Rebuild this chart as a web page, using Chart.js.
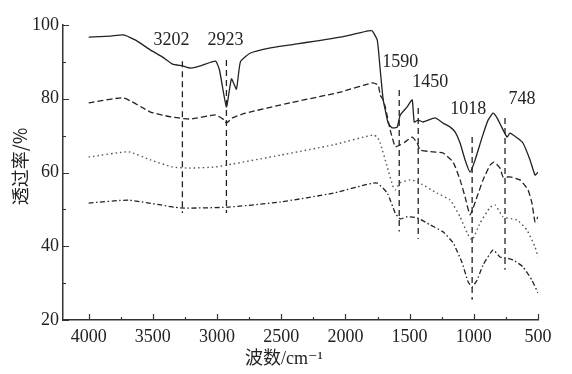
<!DOCTYPE html>
<html>
<head>
<meta charset="utf-8">
<script src="https://cdn.jsdelivr.net/npm/chart.js@4"></script>
<style>
  html, body { margin: 0; padding: 0; background: #fff; }
  #wrap { width: 572px; height: 374px; }
</style>
</head>
<body>
<div id="wrap"><canvas id="ftir" width="572" height="374"></canvas></div>
<script>
// wavenumber (cm-1) / transmittance (%)
const solidX = [4000, 3829, 3728, 3634, 3518, 3424, 3347, 3269, 3207, 3129, 3012, 2981, 2927, 2888, 2849, 2818, 2740, 2584, 2429, 2040, 1822, 1791, 1752, 1729, 1706, 1690, 1667, 1636, 1597, 1573, 1519, 1480, 1464, 1433, 1395, 1301, 1239, 1184, 1146, 1107, 1068, 1029, 990, 935, 889, 850, 819, 780, 741, 718, 663, 617, 562, 523, 500];
const solidY = [96.7, 97.0, 97.3, 95.9, 93.2, 91.3, 89.4, 88.9, 88.3, 88.9, 90.2, 87.8, 77.8, 85.4, 82.6, 90.0, 92.4, 93.8, 94.6, 96.7, 98.4, 98.4, 95.9, 87.8, 79.7, 77.0, 73.4, 72.1, 72.3, 75.6, 77.8, 79.7, 73.7, 74.2, 73.7, 74.8, 73.4, 72.3, 71.0, 68.0, 63.4, 60.1, 63.4, 69.6, 74.2, 76.1, 74.8, 72.1, 69.6, 70.7, 69.4, 68.0, 63.4, 59.3, 60.1];

const dashX = [4000, 3728, 3518, 3347, 3207, 3012, 2942, 2927, 2880, 2779, 2429, 2040, 1791, 1745, 1729, 1706, 1690, 1651, 1612, 1573, 1534, 1480, 1441, 1418, 1317, 1239, 1161, 1107, 1068, 1029, 975, 928, 873, 842, 796, 772, 718, 640, 578, 547, 523, 500];
const dashY = [78.9, 80.2, 76.4, 75.0, 74.5, 75.6, 74.2, 73.4, 74.8, 76.1, 78.9, 81.8, 84.3, 83.7, 81.0, 79.7, 77.8, 71.5, 67.0, 67.5, 68.3, 69.6, 68.0, 66.1, 65.6, 65.3, 62.8, 58.0, 53.4, 48.5, 53.4, 58.0, 62.0, 62.8, 61.2, 58.8, 58.8, 58.0, 55.3, 51.7, 46.6, 48.0];

const dotX = [4000, 3689, 3518, 3347, 3207, 3012, 2927, 2507, 2095, 1785, 1752, 1729, 1674, 1628, 1612, 1573, 1495, 1441, 1286, 1184, 1107, 1052, 1013, 951, 873, 834, 772, 663, 586, 523, 500];
const dotY = [64.2, 65.6, 63.4, 61.5, 61.2, 61.5, 62.0, 64.7, 67.5, 70.2, 69.6, 68.0, 61.5, 56.0, 55.3, 57.2, 58.0, 57.5, 54.4, 52.5, 48.0, 43.6, 41.7, 46.3, 50.6, 51.2, 48.0, 47.1, 44.4, 39.8, 37.1];

const dashDotX = [4000, 3689, 3285, 2919, 2507, 2095, 1760, 1674, 1612, 1573, 1519, 1441, 1340, 1239, 1161, 1091, 1044, 1013, 975, 928, 850, 796, 741, 694, 617, 547, 500];
const dashDotY = [51.7, 52.5, 50.4, 50.6, 52.0, 54.4, 57.2, 54.4, 49.0, 47.4, 48.0, 47.7, 45.8, 43.9, 40.9, 35.5, 30.3, 29.0, 30.8, 34.9, 39.0, 37.1, 36.8, 36.3, 34.4, 30.8, 27.3];

// peak markers
const peakLabels = ['3202', '2923', '1590', '1450', '1018', '748'];
const peakLineX = [3270, 2927, 1581, 1433, 1013, 757];
const peakLineTop = [90.2, 90.5, 82.4, 77.5, 69.6, 74.8];
const peakLineBottom = [49, 49, 44, 42, 25.5, 33.6];
const peakTextX = [3354, 2934, 1573, 1340, 1044, 624];
const peakTextY = [95.9, 95.9, 90.0, 84.5, 77.2, 79.9];

const xTicks = [4000, 3500, 3000, 2500, 2000, 1500, 1000, 500];
const yTicks = [100, 80, 60, 40, 20];

const xTitle = '波数/cm⁻¹';
const yTitle = '透过率/%';

const ink = '#222';
const serif = '"Liberation Serif", "DejaVu Serif", serif';
const cjk = '"Noto Sans CJK SC", "Noto Sans", sans-serif';

function toPts(xs, ys) {
    return xs.map((x, i) => ({ x: x, y: ys[i] }));
}

function curve(xs, ys, dash, width, color) {
    return {
        data: toPts(xs, ys),
        showLine: true,
        borderColor: color || ink,
        borderWidth: width,
        borderDash: dash,
        pointRadius: 0,
        tension: 0.15,
        fill: false
    };
}

const datasets = [
    curve(solidX, solidY, [], 1.3),
    curve(dashX, dashY, [6, 3], 1.3),
    curve(dotX, dotY, [1.5, 3], 1.4, '#555'),
    curve(dashDotX, dashDotY, [5, 2.5, 1.5, 2.5], 1.3)
];

// vertical dashed marker lines, each a 2-point series
peakLineX.forEach((x, i) => {
    datasets.push({
        data: [{ x: x, y: peakLineTop[i] }, { x: x, y: peakLineBottom[i] }],
        showLine: true,
        borderColor: ink,
        borderWidth: 1.3,
        borderDash: [6, 4],
        pointRadius: 0,
        tension: 0
    });
});

// inward tick marks, peak labels and axis titles
const decor = {
    id: 'decor',
    afterDraw(chart) {
        const ctx = chart.ctx;
        const xs = chart.scales.x;
        const ys = chart.scales.y;
        const area = chart.chartArea;
        ctx.save();
        ctx.strokeStyle = '#333';
        ctx.lineWidth = 1.2;
        ctx.beginPath();
        xTicks.forEach(v => {
            const px = Math.round(xs.getPixelForValue(v)) + 0.5;
            ctx.moveTo(px, area.bottom);
            ctx.lineTo(px, area.bottom - 6);
        });
        for (let i = 0; i < xTicks.length - 1; i++) {
            const px = Math.round(xs.getPixelForValue((xTicks[i] + xTicks[i + 1]) / 2)) + 0.5;
            ctx.moveTo(px, area.bottom);
            ctx.lineTo(px, area.bottom - 3);
        }
        yTicks.forEach(v => {
            const py = Math.round(ys.getPixelForValue(v)) + 0.5;
            ctx.moveTo(area.left, py);
            ctx.lineTo(area.left + 6, py);
        });
        for (let i = 0; i < yTicks.length - 1; i++) {
            const py = Math.round(ys.getPixelForValue((yTicks[i] + yTicks[i + 1]) / 2)) + 0.5;
            ctx.moveTo(area.left, py);
            ctx.lineTo(area.left + 3, py);
        }
        ctx.stroke();

        ctx.fillStyle = ink;
        ctx.font = '18px ' + serif;
        ctx.textAlign = 'center';
        ctx.textBaseline = 'middle';
        peakLabels.forEach((t, i) => {
            ctx.fillText(t, xs.getPixelForValue(peakTextX[i]), ys.getPixelForValue(peakTextY[i]));
        });

        // x title: CJK part + serif unit
        const cjkPart = '波数';
        const unitPart = xTitle.slice(2);
        ctx.textAlign = 'left';
        ctx.textBaseline = 'alphabetic';
        ctx.font = '18px ' + cjk;
        const w1 = ctx.measureText(cjkPart).width;
        ctx.font = '18px ' + serif;
        const w2 = ctx.measureText(unitPart).width;
        const startX = 284 - (w1 + w2) / 2;
        ctx.font = '18px ' + cjk;
        ctx.fillText(cjkPart, startX, 364);
        ctx.font = '18px ' + serif;
        ctx.fillText(unitPart, startX + w1, 364);

        // y title, rotated
        ctx.translate(20, (area.top + area.bottom) / 2 - 6);
        ctx.rotate(-Math.PI / 2);
        ctx.textAlign = 'center';
        ctx.textBaseline = 'middle';
        ctx.font = '18px ' + cjk;
        ctx.fillText(yTitle, 0, 0);
        ctx.restore();
    }
};

new Chart(document.getElementById('ftir'), {
    type: 'scatter',
    data: { datasets: datasets },
    options: {
        responsive: false,
        animation: false,
        layout: { padding: { top: 25, right: 34, left: 0, bottom: 0 } },
        plugins: {
            legend: { display: false },
            tooltip: { enabled: false }
        },
        scales: {
            x: {
                type: 'linear',
                reverse: true,
                min: 500,
                max: 4200,
                afterBuildTicks: s => { s.ticks = xTicks.map(v => ({ value: v })); },
                afterFit: s => { s.height = 54; },
                grid: { display: false, drawTicks: false },
                border: { display: true, color: '#333', width: 1.5 },
                ticks: {
                    padding: 6,
                    color: ink,
                    font: { family: serif, size: 18 },
                    maxRotation: 0,
                    autoSkip: false,
                    callback: v => String(v)
                }
            },
            y: {
                min: 20,
                max: 100,
                afterBuildTicks: s => { s.ticks = yTicks.map(v => ({ value: v })); },
                afterFit: s => { s.width = 63; },
                grid: { display: false, drawTicks: false },
                border: { display: true, color: '#333', width: 1.5 },
                ticks: {
                    padding: 4,
                    color: ink,
                    font: { family: serif, size: 18 },
                    callback: v => String(v)
                }
            }
        }
    },
    plugins: [decor]
});
</script>
</body>
</html>
